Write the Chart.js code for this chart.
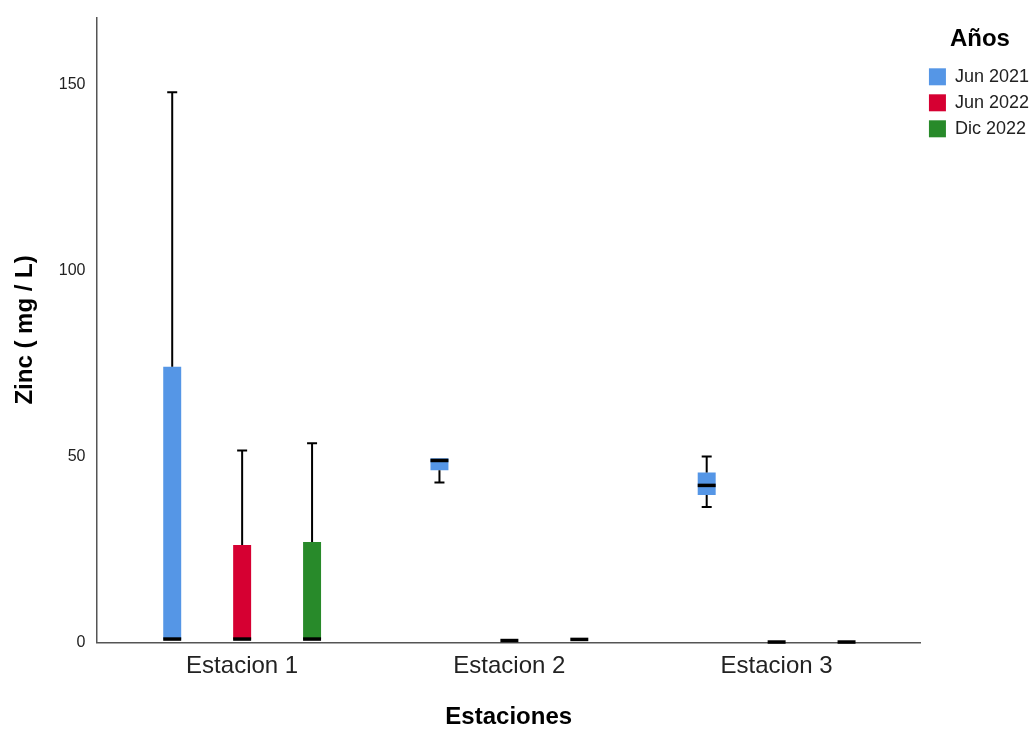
<!DOCTYPE html>
<html>
<head>
<meta charset="utf-8">
<script src="https://cdn.jsdelivr.net/npm/chart.js@4.4.1/dist/chart.umd.min.js"></script>
<style>
    html, body { margin: 0; padding: 0; background: #fff; }
    #wrap { width: 1034px; height: 729px; }
</style>
</head>
<body>
<div id="wrap"><canvas id="zincChart"></canvas></div>
<script>
// Estaciones y series
const estaciones = ['Estacion 1', 'Estacion 2', 'Estacion 3'];
const seriesNames = ['Jun 2021', 'Jun 2022', 'Dic 2022'];
const seriesColors = ['#5596E6', '#D60032', '#288A2A'];

// Valores de caja (min, q1, mediana, q3, max) por serie y estacion
const minJun2021 = [0.8, 43.0, 36.4];
const q1Jun2021 = [0.8, 46.3, 39.6];
const medJun2021 = [0.9, 48.9, 42.2];
const q3Jun2021 = [74.1, 49.5, 45.7];
const maxJun2021 = [147.9, 49.5, 50.0];

const minJun2022 = [0.8, 0.5, 0.1];
const q1Jun2022 = [0.8, 0.5, 0.1];
const medJun2022 = [0.9, 0.5, 0.1];
const q3Jun2022 = [26.2, 0.5, 0.1];
const maxJun2022 = [51.6, 0.5, 0.1];

const minDic2022 = [0.8, 0.8, 0.1];
const q1Dic2022 = [0.8, 0.8, 0.1];
const medDic2022 = [0.9, 0.8, 0.1];
const q3Dic2022 = [27.0, 0.8, 0.1];
const maxDic2022 = [53.5, 0.8, 0.1];

const yTicks = [0, 50, 100, 150];

const boxStats = [
    { min: minJun2021, q1: q1Jun2021, med: medJun2021, q3: q3Jun2021, max: maxJun2021 },
    { min: minJun2022, q1: q1Jun2022, med: medJun2022, q3: q3Jun2022, max: maxJun2022 },
    { min: minDic2022, q1: q1Dic2022, med: medDic2022, q3: q3Dic2022, max: maxDic2022 },
];

// Cajas como barras flotantes [q1, q3], una por estacion (x = indice)
const datasets = seriesNames.map((name, i) => ({
    label: name,
    data: boxStats[i].q1.map((lo, j) => ({ x: j, y: [lo, boxStats[i].q3[j]] })),
    backgroundColor: seriesColors[i],
    borderWidth: 0,
    borderSkipped: false,
    categoryPercentage: 0.785,
    barPercentage: 0.257,
}));

// Bigotes y mediana sobre las cajas
const whiskerPlugin = {
    id: 'whiskers',
    afterDatasetsDraw(chart) {
        const ctx = chart.ctx;
        const y = chart.scales.y;
        ctx.save();
        ctx.strokeStyle = '#000';
        chart.data.datasets.forEach((ds, i) => {
            const meta = chart.getDatasetMeta(i);
            const st = boxStats[i];
            meta.data.forEach((bar, j) => {
                const x = bar.x;
                const half = bar.width / 2;
                const pMin = y.getPixelForValue(st.min[j]);
                const pQ1 = y.getPixelForValue(st.q1[j]);
                const pQ3 = y.getPixelForValue(st.q3[j]);
                const pMax = y.getPixelForValue(st.max[j]);
                const pMed = y.getPixelForValue(st.med[j]);
                ctx.lineWidth = 2;
                ctx.beginPath();
                if (pMax < pQ3 - 1) {
                    ctx.moveTo(x, pQ3); ctx.lineTo(x, pMax);
                    ctx.moveTo(x - 5, pMax); ctx.lineTo(x + 5, pMax);
                }
                if (pMin > pQ1 + 1) {
                    ctx.moveTo(x, pQ1); ctx.lineTo(x, pMin);
                    ctx.moveTo(x - 5, pMin); ctx.lineTo(x + 5, pMin);
                }
                ctx.stroke();
                ctx.lineWidth = 3.5;
                ctx.beginPath();
                ctx.moveTo(x - half, pMed); ctx.lineTo(x + half, pMed);
                ctx.stroke();
            });
        });
        ctx.restore();
    }
};

const ctx = document.getElementById('zincChart').getContext('2d');
new Chart(ctx, {
    type: 'bar',
    data: { datasets: datasets },
    plugins: [whiskerPlugin],
    options: {
        responsive: true,
        maintainAspectRatio: false,
        animation: false,
        layout: { padding: { top: 6, right: -5, left: 11, bottom: -3 } },
        plugins: {
            tooltip: { enabled: false },
            legend: {
                position: 'right',
                align: 'start',
                title: {
                    display: true,
                    text: 'Años',
                    color: '#000',
                    font: { family: 'Liberation Sans, Arial', size: 24, weight: 'bold' },
                    padding: { top: 21, bottom: 4 },
                },
                labels: {
                    boxWidth: 17,
                    boxHeight: 17,
                    padding: 8,
                    color: '#222',
                    font: { family: 'Liberation Sans, Arial', size: 18 },
                },
            },
        },
        scales: {
            x: {
                type: 'linear',
                offset: false,
                min: -0.545,
                max: 2.54,
                grid: { display: false, drawTicks: false, offset: false },
                border: { color: '#555', width: 1.5 },
                afterBuildTicks(axis) {
                    axis.ticks = estaciones.map((e, j) => ({ value: j }));
                },
                ticks: {
                    color: '#222',
                    padding: 10,
                    font: { family: 'Liberation Sans, Arial', size: 24 },
                    callback: v => estaciones[v],
                },
                title: {
                    display: true,
                    text: 'Estaciones',
                    color: '#000',
                    padding: { top: 12, bottom: 0 },
                    font: { family: 'Liberation Sans, Arial', size: 24, weight: 'bold' },
                },
            },
            y: {
                min: 0,
                max: 168,
                grid: { display: false, drawTicks: false },
                border: { color: '#555', width: 1.5 },
                afterBuildTicks(axis) {
                    axis.ticks = yTicks.map(v => ({ value: v }));
                },
                ticks: {
                    color: '#222',
                    padding: 11,
                    font: { family: 'Liberation Sans, Arial', size: 16, lineHeight: 0.8 },
                },
                title: {
                    display: true,
                    text: 'Zinc ( mg / L)',
                    color: '#000',
                    padding: { top: 0, bottom: 8 },
                    font: { family: 'Liberation Sans, Arial', size: 24, weight: 'bold' },
                },
            },
        },
    },
});
</script>
</body>
</html>
